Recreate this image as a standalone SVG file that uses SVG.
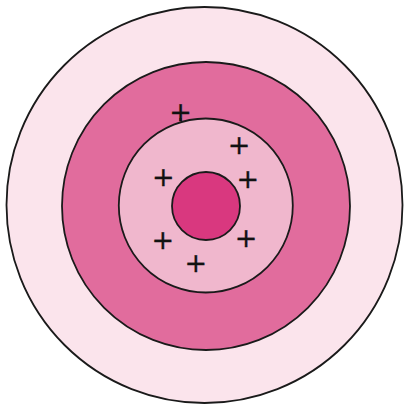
<svg xmlns="http://www.w3.org/2000/svg" width="405" height="404" viewBox="0 0 405 404">
<style>
.ring{stroke:#1a1a1a;stroke-width:1.8}
.pl{font-family:"DejaVu Sans",sans-serif;font-size:27px;fill:#111;stroke:#111;stroke-width:0.3;text-anchor:middle}
</style>
<rect width="405" height="404" fill="#ffffff"/>
<g id="ring-outer"><circle class="ring" cx="204.5" cy="205" r="198" fill="#FBE4EC"/></g>
<g id="ring-2"><circle class="ring" cx="206" cy="206" r="144" fill="#E16C9D"/></g>
<g id="ring-3"><circle class="ring" cx="205.8" cy="205.5" r="87" fill="#F0B7CD"/></g>
<g id="core"><circle class="ring" cx="206" cy="206" r="34" fill="#D9387F"/></g>
<g id="charges">
<text class="pl" x="180.5" y="121.3">+</text>
<line x1="180.5" y1="118" x2="180.5" y2="121" stroke="#111" stroke-width="2"/>
<text class="pl" x="239" y="153.6">+</text>
<text class="pl" x="163.3" y="186.2">+</text>
<text class="pl" x="247.7" y="188.4">+</text>
<text class="pl" x="162.7" y="248.5">+</text>
<text class="pl" x="246" y="247">+</text>
<text class="pl" x="195.7" y="271.8">+</text>
</g>
</svg>
